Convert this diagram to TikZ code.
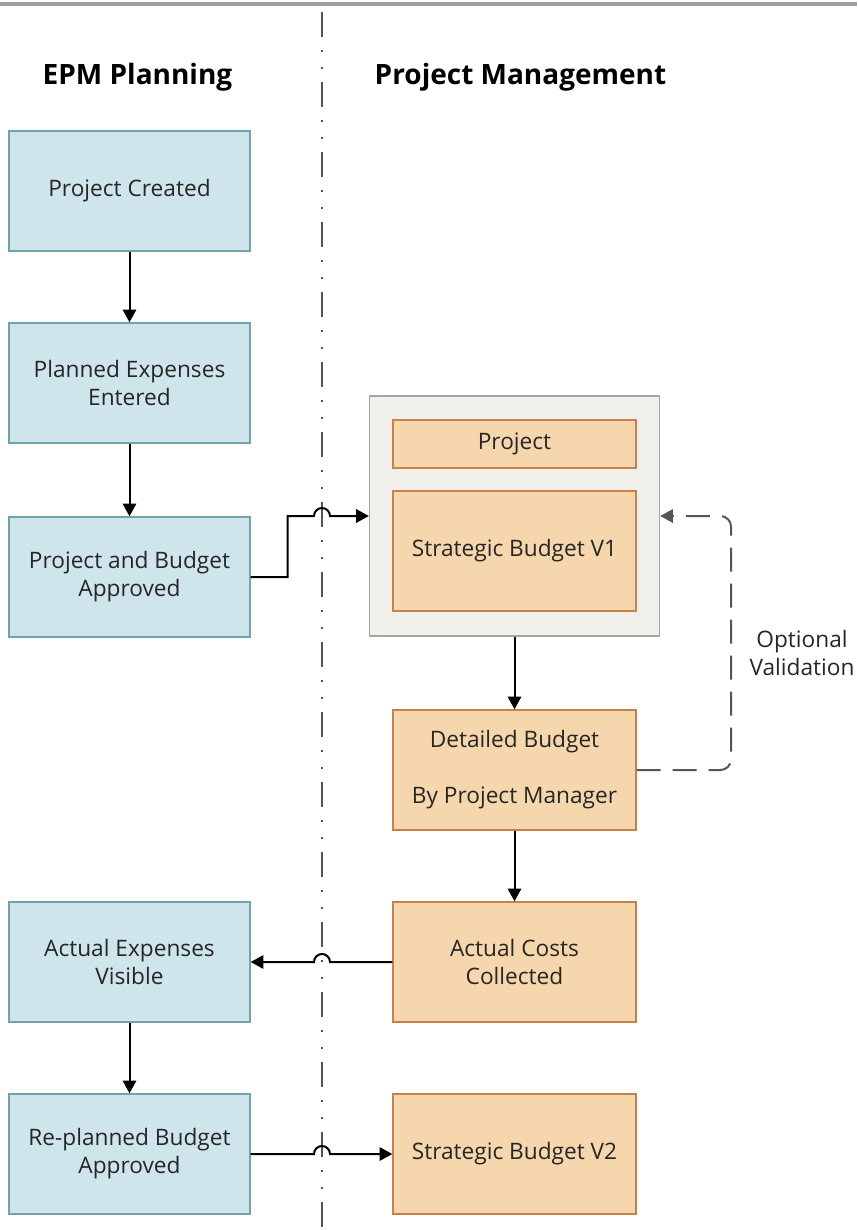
\documentclass[tikz,border=0pt]{standalone}
\usepackage{fontspec}
\setmainfont{Open Sans}
\usetikzlibrary{arrows.meta}

\definecolor{epmfill}{HTML}{CEE5EB}
\definecolor{epmline}{HTML}{72A2AE}
\definecolor{pmfill}{HTML}{F6D6AC}
\definecolor{pmline}{HTML}{C8814A}
\definecolor{framefill}{HTML}{F0EFE9}
\definecolor{frameline}{HTML}{A5A5A5}
\definecolor{txtgray}{HTML}{262626}
\definecolor{linegray}{HTML}{555555}

\begin{document}
\begin{tikzpicture}[x=0.75pt, y=0.75pt,
    every node/.style={font=\fontsize{17}{21}\selectfont, text=txtgray, align=center},
    title/.style={font=\fontsize{21}{25}\selectfont\bfseries, text=black, anchor=base west},
    epm/.style={draw=epmline, fill=epmfill, line width=1pt, minimum width=180.75pt, minimum height=90pt},
    pm/.style={draw=pmline, fill=pmfill, line width=1pt, minimum width=182.25pt, minimum height=90pt},
    frame/.style={draw=frameline, fill=framefill, line width=1pt, minimum width=217.5pt, minimum height=180pt},
    arr/.style={-{Triangle[length=9.5pt,width=10pt]}, line width=1.5pt},
    divider/.style={draw=linegray, line width=1.5pt,
        dash pattern=on 18.75pt off 9.75pt on 1.5pt off 11.25pt on 1.5pt off 9.75pt},
    optional/.style={draw=linegray, line width=1.5pt, dash pattern=on 18pt off 9pt,
        rounded corners=8pt, -{Triangle[length=9.5pt,width=10pt]}}]

    \useasboundingbox (0,0) rectangle (857,-1230);
    \draw[gray!75, line width=2.5pt] (0,-4) -- (857,-4);
    \draw[divider] (322,-12) -- (322,-1230);

    % lane titles
    \node[title] (epmtitle) at (38,-85) {EPM Planning};
    \node[title] (pmtitle) at (370,-85) {Project Management};

    % EPM Planning lane
    \node[epm] (created) at (129.5,-191) {Project Created};
    \node[epm] (planned) at (129.5,-383) {Planned Expenses\\Entered};
    \node[epm] (approved) at (129.5,-577) {Project and Budget\\Approved};
    \node[epm] (visible) at (129.5,-962) {Actual Expenses\\Visible};
    \node[epm] (replanned) at (129.5,-1154) {Re-planned Budget\\Approved};

    % Project Management lane
    \node[frame] (container) at (514.5,-516) {};
    \node[pm, minimum height=36pt] (project) at (514.5,-444) {Project};
    \node[pm] (strategic1) at (514.5,-551) {Strategic Budget V1};
    \node[pm] (detailed) at (514.5,-770) {Detailed Budget\\[21pt]By Project Manager};
    \node[pm] (collected) at (514.5,-962) {Actual Costs\\Collected};
    \node[pm] (strategic2) at (514.5,-1154) {Strategic Budget V2};
    \node (validation) at (802,-653) {Optional\\Validation};

    % flow
    \draw[arr] (created) -- (planned);
    \draw[arr] (planned) -- (approved);
    \draw[arr] (visible) -- (replanned);
    \draw[arr] (container) -- (detailed);
    \draw[arr] (detailed) -- (collected);
    \draw[arr] (approved.east) -- ++(37,0) |- (314,-516)
        arc[start angle=180, end angle=0, radius=6pt] -- (container.west);
    \draw[arr] (collected.west) -- (330,-962)
        arc[start angle=0, end angle=180, radius=6pt] -- (visible.east);
    \draw[arr] (replanned.east) -- (314,-1154)
        arc[start angle=180, end angle=0, radius=6pt] -- (strategic2.west);
    \draw[optional] (detailed.east) -| (731,-516) -- (container.east);
\end{tikzpicture}
\end{document}
